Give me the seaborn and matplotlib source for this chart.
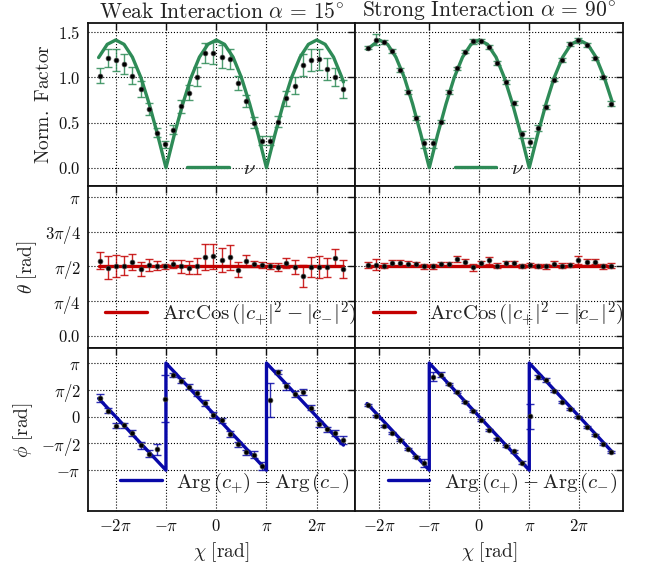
import numpy as np
import matplotlib
matplotlib.use("Agg")
import matplotlib.pyplot as plt
import seaborn as sns

PI = np.pi

# measured points (31 per panel, evenly spaced in chi)
chi_weak = np.linspace(-7.26, 7.93, 31)
chi_strong = np.linspace(-7.01, 8.27, 31)

nu_weak = [1.02, 1.21, 1.19, 1.15, 1.02, 0.87, 0.65, 0.39, 0.26, 0.42, 0.68, 0.83, 1.01, 1.27, 1.27, 1.23,
           1.20, 0.94, 0.74, 0.50, 0.30, 0.30, 0.51, 0.77, 0.91, 1.14, 1.19, 1.20, 1.09, 1.00, 0.87]
nu_weak_err = [0.085, 0.10, 0.12, 0.11, 0.09, 0.09, 0.07, 0.05, 0.04, 0.05, 0.07, 0.085, 0.10, 0.115, 0.12, 0.13,
               0.11, 0.075, 0.07, 0.06, 0.05, 0.05, 0.06, 0.085, 0.09, 0.12, 0.12, 0.12, 0.12, 0.10, 0.10]
nu_strong = [1.33, 1.415, 1.39, 1.29, 1.08, 0.84, 0.55, 0.27, 0.27, 0.51, 0.84, 1.10, 1.285, 1.40, 1.40, 1.34,
             1.16, 0.95, 0.72, 0.37, 0.28, 0.44, 0.67, 0.975, 1.19, 1.37, 1.41, 1.36, 1.21, 1.00, 0.71]
nu_strong_err = [0.02, 0.06, 0.02, 0.02, 0.02, 0.02, 0.02, 0.05, 0.05, 0.02, 0.02, 0.02, 0.02, 0.03, 0.02, 0.02,
                 0.02, 0.02, 0.02, 0.04, 0.05, 0.03, 0.02, 0.02, 0.02, 0.02, 0.03, 0.02, 0.02, 0.02, 0.03]

theta_weak = [1.70, 1.54, 1.58, 1.59, 1.67, 1.52, 1.60, 1.59, 1.57, 1.63, 1.57, 1.54, 1.59, 1.78, 1.80, 1.71,
              1.78, 1.50, 1.69, 1.62, 1.61, 1.59, 1.56, 1.65, 1.55, 1.35, 1.56, 1.56, 1.55, 1.77, 1.51]
theta_weak_err = [0.19, 0.26, 0.25, 0.22, 0.19, 0.16, 0.13, 0.11, 0.06, 0.09, 0.15, 0.15, 0.18, 0.30, 0.29, 0.27,
                  0.28, 0.17, 0.14, 0.07, 0.065, 0.07, 0.09, 0.12, 0.16, 0.25, 0.23, 0.25, 0.22, 0.19, 0.21]
theta_strong = [1.60, 1.61, 1.59, 1.65, 1.65, 1.63, 1.63, 1.57, 1.57, 1.62, 1.63, 1.74, 1.67, 1.55, 1.65, 1.71,
                1.59, 1.64, 1.64, 1.58, 1.61, 1.58, 1.57, 1.63, 1.59, 1.61, 1.71, 1.68, 1.68, 1.57, 1.59]
theta_strong_err = [0.07, 0.13, 0.06, 0.06, 0.07, 0.06, 0.05, 0.05, 0.05, 0.05, 0.05, 0.07, 0.07, 0.08, 0.05, 0.08,
                    0.06, 0.06, 0.05, 0.05, 0.05, 0.05, 0.05, 0.06, 0.06, 0.05, 0.09, 0.07, 0.06, 0.05, 0.05]

phi_weak = [1.10, 0.35, -0.53, -0.51, -0.96, -1.67, -2.18, -1.90, 1.06, 2.46, 2.12, 1.75, 1.39, 0.80, 0.10, -0.20,
            -1.02, -1.61, -2.08, -2.24, -2.89, 1.00, 2.63, 1.77, 1.34, 1.45, 0.53, -0.43, -0.73, -0.96, -1.36]
phi_weak_err = [0.24, 0.15, 0.15, 0.15, 0.20, 0.20, 0.20, 0.32, 1.40, 0.12, 0.15, 0.15, 0.20, 0.15, 0.15, 0.15,
                0.15, 0.15, 0.15, 0.20, 0.25, 1.00, 0.12, 0.18, 0.18, 0.18, 0.15, 0.15, 0.15, 0.20, 0.25]
phi_strong = [0.67, 0.02, -0.57, -0.98, -1.39, -1.90, -2.38, -2.73, 2.34, 2.46, 1.89, 1.43, 0.88, 0.31, -0.22, -0.81,
              -1.30, -1.71, -2.04, -2.69, 0.02, 2.34, 2.14, 1.49, 0.88, 0.47, -0.02, -0.61, -1.06, -1.61, -2.10]
phi_strong_err = [0.06, 0.06, 0.06, 0.06, 0.06, 0.06, 0.06, 0.22, 0.26, 0.15, 0.06, 0.06, 0.06, 0.06, 0.06, 0.06,
                  0.06, 0.06, 0.10, 0.10, 0.75, 0.12, 0.10, 0.06, 0.06, 0.06, 0.06, 0.06, 0.06, 0.06, 0.06]

nu_mid_x = [-6.81, -6.28, -5.76, -5.24, -4.71, -4.19, -3.67, -3.14, -2.62, -2.09, -1.57, -1.05, -0.52, 0.0,
            0.52, 1.05, 1.57, 2.09, 2.62, 3.14, 3.67, 4.19, 4.71, 5.24, 5.76, 6.28, 6.81, 7.33, 7.85]
nu_mid_y = [1.366, 1.414, 1.366, 1.225, 1.0, 0.707, 0.369, 0.0, 0.366, 0.707, 1.0, 1.225, 1.366, 1.414,
            1.366, 1.225, 1.0, 0.707, 0.366, 0.0, 0.369, 0.707, 1.0, 1.225, 1.366, 1.414, 1.366, 1.225, 1.0]
nu_weak_x = [-7.35] + nu_mid_x + [7.95]
nu_weak_y = [1.22] + nu_mid_y + [0.95]
nu_strong_x = [-7.05] + nu_mid_x[1:] + [8.35]
nu_strong_y = [1.31] + nu_mid_y[1:] + [0.73]

theta_weak_x = [-7.35, 7.95]
theta_strong_x = [-7.05, 8.35]
theta_line = [1.571, 1.571]

phi_weak_x = [-7.35, -3.1416, -3.1416, 3.1416, 3.1416, 7.95]
phi_weak_y = [1.07, -3.1416, 3.1416, -3.1416, 3.1416, -1.67]
phi_strong_x = [-7.05, -3.1416, -3.1416, 3.1416, 3.1416, 8.35]
phi_strong_y = [0.77, -3.1416, 3.1416, -3.1416, 3.1416, -2.07]

titles = [r'$\mathrm{Weak\ Interaction}\ \alpha\,=\,15^{\circ}$',
          r'$\mathrm{Strong\ Interaction}\ \alpha\,=\,90^{\circ}$']
legend_labels = [r'$\nu$',
                 r'$\mathrm{ArcCos}\,(|c_{+}|^{2} - |c_{-}|^{2})$',
                 r'$\mathrm{Arg}\,(c_{+}) - \mathrm{Arg}\,(c_{-})$']
legend_x = [0.50, 0.535, 0.55]
legend_y = [-0.03, 0.05, 0.025]
ylabels = [r'$\mathrm{Norm.\ Factor}$', r'$\theta\ \mathrm{[rad]}$', r'$\phi\ \mathrm{[rad]}$']
row_colors = ['#2e8b57', '#c40000', '#0808a8']

sns.set_theme(style='white')
plt.rcParams.update({
    'font.family': ['DejaVu Serif'],
    'mathtext.fontset': 'cm',
    'axes.edgecolor': '#111111',
    'axes.linewidth': 1.3,
    'xtick.direction': 'in',
    'ytick.direction': 'in',
    'xtick.top': True,
    'ytick.right': True,
    'xtick.major.size': 5,
    'ytick.major.size': 5,
    'xtick.major.width': 1.0,
    'ytick.major.width': 1.0,
    'xtick.color': '#111111',
    'ytick.color': '#111111',
    'text.color': '#222222',
    'axes.labelcolor': '#222222',
})

fig = plt.figure(figsize=(6.51, 5.66), dpi=100)
axes = fig.subplots(3, 2, sharex='col', sharey='row')
fig.subplots_adjust(left=0.135, right=0.957, top=0.959, bottom=0.097, hspace=0, wspace=0)

panels = [
    [(chi_weak, nu_weak, nu_weak_err, nu_weak_x, nu_weak_y),
     (chi_strong, nu_strong, nu_strong_err, nu_strong_x, nu_strong_y)],
    [(chi_weak, theta_weak, theta_weak_err, theta_weak_x, theta_line),
     (chi_strong, theta_strong, theta_strong_err, theta_strong_x, theta_line)],
    [(chi_weak, phi_weak, phi_weak_err, phi_weak_x, phi_weak_y),
     (chi_strong, phi_strong, phi_strong_err, phi_strong_x, phi_strong_y)],
]

for r in range(3):
    for c in range(2):
        ax = axes[r, c]
        px, py, pe, lx, ly = panels[r][c]
        col = row_colors[r]
        sns.lineplot(x=lx, y=ly, ax=ax, color=col, lw=2.4, sort=False, estimator=None,
                     label=legend_labels[r], zorder=2)
        ax.errorbar(px, py, yerr=pe, fmt='none', ecolor=col, elinewidth=1.0, capsize=3,
                    capthick=1.0, alpha=0.85, zorder=3)
        sns.scatterplot(x=px, y=py, ax=ax, color='black', s=12, edgecolor='#444444',
                        linewidth=0.5, zorder=4)
        ax.grid(True, color='black', linestyle=':', linewidth=0.8)
        ax.legend(loc='lower center', bbox_to_anchor=(legend_x[r], legend_y[r]), frameon=False,
                  fontsize=15, handlelength=2.0, handletextpad=0.7, borderaxespad=0.2)
        ax.tick_params(axis='both', labelsize=12, pad=5)

# x axes
for c, lim in enumerate([(-8.02, 8.70), (-7.78, 9.03)]):
    axes[2, c].set_xlim(*lim)
    axes[2, c].set_xticks([-2 * PI, -PI, 0, PI, 2 * PI])
    axes[2, c].set_xticklabels([r'$-2\pi$', r'$-\pi$', r'$0$', r'$\pi$', r'$2\pi$'])
    axes[2, c].set_xlabel(r'$\chi\ \mathrm{[rad]}$', fontsize=14)
    axes[0, c].set_title(titles[c], fontsize=15.5, pad=3)

# y axes
axes[0, 0].set_ylim(-0.2, 1.6)
axes[0, 0].set_yticks([0.0, 0.5, 1.0, 1.5])
axes[0, 0].set_yticklabels([r'$0.0$', r'$0.5$', r'$1.0$', r'$1.5$'])
axes[1, 0].set_ylim(-0.29, 3.40)
axes[1, 0].set_yticks([0, PI / 4, PI / 2, 3 * PI / 4, PI])
axes[1, 0].set_yticklabels([r'$0.0$', r'$\pi/4$', r'$\pi/2$', r'$3\pi/4$', r'$\pi$'])
axes[2, 0].set_ylim(-5.54, 4.0)
axes[2, 0].set_yticks([-PI, -PI / 2, 0, PI / 2, PI])
axes[2, 0].set_yticklabels([r'$-\pi$', r'$-\pi/2$', r'$0$', r'$\pi/2$', r'$\pi$'])
for r in range(3):
    axes[r, 0].set_ylabel(ylabels[r], fontsize=14)

fig.savefig('out.png', dpi=100)
